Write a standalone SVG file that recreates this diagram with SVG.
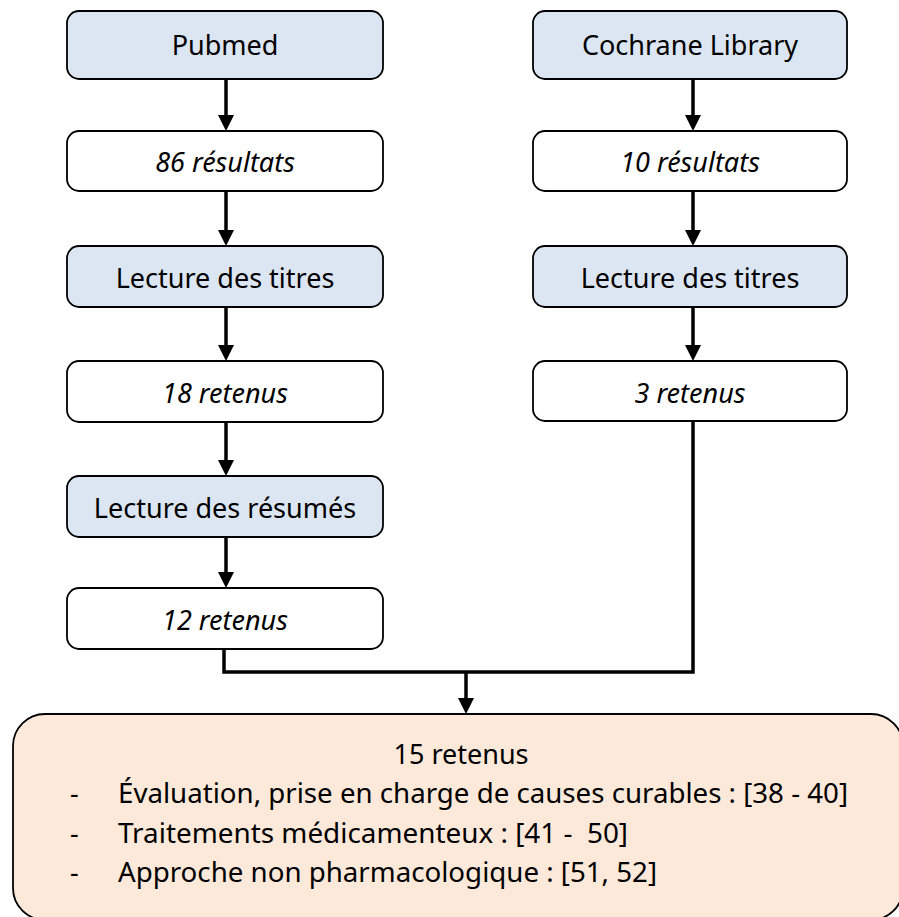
<svg xmlns="http://www.w3.org/2000/svg" width="899" height="917" viewBox="0 0 899 917">
<style>
  .box { stroke: #000; stroke-width: 1.8; }
  .blue { fill: #dce6f2; }
  .white { fill: #ffffff; }
  .peach { fill: #fde9d9; }
  text { font-family: "Noto Sans", "Open Sans", sans-serif; font-size: 27px; fill: #000; }
  .c { text-anchor: middle; }
  .i { font-style: italic; }
  .conn { fill: none; stroke: #000; stroke-width: 3.5; }
</style>
<defs>
  <marker id="arr" markerUnits="userSpaceOnUse" markerWidth="17" markerHeight="17" refX="1" refY="8" orient="auto">
    <path d="M0,0 L16,8 L0,16 Z" fill="#000"/>
  </marker>
</defs>
<rect width="899" height="917" fill="#ffffff"/>

<g id="connectors">
  <line class="conn" x1="226" y1="79" x2="226" y2="116" marker-end="url(#arr)"/>
  <line class="conn" x1="226" y1="191" x2="226" y2="231" marker-end="url(#arr)"/>
  <line class="conn" x1="226" y1="307" x2="226" y2="346" marker-end="url(#arr)"/>
  <line class="conn" x1="226" y1="422" x2="226" y2="461" marker-end="url(#arr)"/>
  <line class="conn" x1="226" y1="537" x2="226" y2="573" marker-end="url(#arr)"/>
  <line class="conn" x1="693" y1="79" x2="693" y2="116" marker-end="url(#arr)"/>
  <line class="conn" x1="693" y1="191" x2="693" y2="231" marker-end="url(#arr)"/>
  <line class="conn" x1="693" y1="307" x2="693" y2="346" marker-end="url(#arr)"/>
  <path class="conn" d="M224,649 V672 H693 V421"/>
  <line class="conn" x1="466" y1="672" x2="466" y2="699" marker-end="url(#arr)"/>
</g>

<g id="pubmed">
  <rect class="box blue" x="67" y="11" width="316" height="68" rx="12"/>
  <text class="c" x="225" y="55">Pubmed</text>
</g>
<g id="cochrane">
  <rect class="box blue" x="533" y="11" width="314" height="68" rx="12"/>
  <text class="c" x="690" y="55">Cochrane Library</text>
</g>
<g id="res86">
  <rect class="box white" x="67" y="131" width="316" height="60" rx="12"/>
  <text class="c i" x="225" y="172">86 résultats</text>
</g>
<g id="res10">
  <rect class="box white" x="533" y="131" width="314" height="60" rx="12"/>
  <text class="c i" x="690" y="172">10 résultats</text>
</g>
<g id="titres1">
  <rect class="box blue" x="67" y="246" width="316" height="61" rx="12"/>
  <text class="c" x="225" y="288">Lecture des titres</text>
</g>
<g id="titres2">
  <rect class="box blue" x="533" y="246" width="314" height="61" rx="12"/>
  <text class="c" x="690" y="288">Lecture des titres</text>
</g>
<g id="ret18">
  <rect class="box white" x="67" y="361" width="316" height="61" rx="12"/>
  <text class="c i" x="225" y="403">18 retenus</text>
</g>
<g id="ret3">
  <rect class="box white" x="533" y="361" width="314" height="60" rx="12"/>
  <text class="c i" x="690" y="403">3 retenus</text>
</g>
<g id="resumes">
  <rect class="box blue" x="67" y="476" width="316" height="61" rx="12"/>
  <text class="c" x="225" y="518">Lecture des résumés</text>
</g>
<g id="ret12">
  <rect class="box white" x="67" y="588" width="316" height="61" rx="12"/>
  <text class="c i" x="225" y="630">12 retenus</text>
</g>
<g id="final">
  <rect class="box peach" x="13" y="714" width="890" height="206" rx="32"/>
  <text class="c" x="461" y="764">15 retenus</text>
  <text x="70" y="803">-</text>
  <text x="118" y="803" textLength="730" lengthAdjust="spacingAndGlyphs">Évaluation, prise en charge de causes curables : [38 - 40]</text>
  <text x="70" y="843">-</text>
  <text x="118" y="843" textLength="510" lengthAdjust="spacingAndGlyphs">Traitements médicamenteux : [41 -&#160; 50]</text>
  <text x="70" y="882">-</text>
  <text x="118" y="882" textLength="539" lengthAdjust="spacingAndGlyphs">Approche non pharmacologique : [51, 52]</text>
</g>
</svg>
